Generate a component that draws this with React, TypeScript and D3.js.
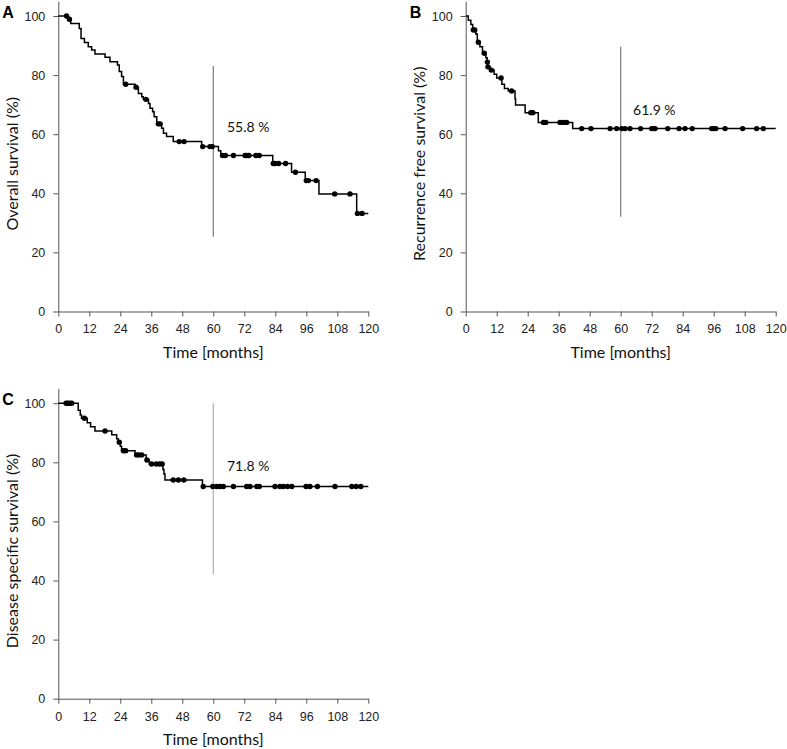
import React, { useEffect, useRef } from "react";
import * as d3 from "d3";

// ---- shared tick values / labels ----
const xTicks = [0, 12, 24, 36, 48, 60, 72, 84, 96, 108, 120];
const yTicks = [0, 20, 40, 60, 80, 100];
const panelLetters = ["A", "B", "C"];
const yTitles = ["Overall survival (%)", "Recurrence free survival (%)", "Disease specific survival (%)"];
const xTitle = "Time [months]";
const fiveYearLabels = ["55.8 %", "61.9 %", "71.8 %"];
const fiveYearMonth = 60;
const refLineLow = [25.3, 32.1, 42.0];
const refLineHigh = [83.1, 89.6, 100];
const labelMonth = [65.3, 64.8, 65.3];
const labelValue = [60.8, 66.5, 77.2];

// ---- A: overall survival ----
const osTimes = [3.9, 4.8, 8.1, 8.8, 10.1, 11.6, 12.9, 14.2, 18.1, 20.0, 22.9, 23.6, 24.5, 25.2, 29.7, 31.0, 32.3, 32.9, 34.9, 35.5, 36.5, 37.1, 38.1, 40.0, 40.7, 41.9, 44.5, 55.5, 62.0, 62.9, 83.0, 90.3, 95.6, 100.9, 115.5];
const osValues = [98.9, 97.5, 95.8, 92.4, 91.0, 89.6, 88.5, 87.1, 86.0, 84.5, 83.4, 81.2, 79.5, 76.9, 75.9, 73.8, 72.7, 71.8, 70.4, 68.8, 67.6, 65.9, 63.5, 62.0, 60.3, 59.2, 57.5, 55.8, 54.4, 52.8, 50.1, 47.1, 44.3, 39.8, 33.2];
const osCensor = [3.2, 4.3, 26.1, 30.1, 33.9, 38.7, 39.4, 46.8, 48.7, 55.9, 58.7, 59.6, 63.6, 64.7, 67.8, 72.3, 72.9, 73.8, 76.5, 77.8, 83.2, 83.9, 85.3, 88.0, 91.8, 96.0, 96.8, 99.8, 107.0, 112.9, 115.8, 117.6];

// ---- B: recurrence free survival ----
const rfsTimes = [1.0, 2.0, 2.7, 3.9, 4.5, 5.5, 6.5, 7.8, 8.3, 8.5, 9.4, 11.0, 12.0, 14.0, 15.0, 16.5, 19.1, 19.3, 23.0, 28.1, 41.4];
const rfsValues = [98.6, 97.1, 95.3, 93.9, 91.1, 89.6, 87.4, 85.9, 84.4, 82.8, 81.7, 80.3, 79.0, 76.9, 75.5, 74.6, 72.0, 69.9, 67.3, 64.0, 61.9];
const rfsCensor = [2.95, 3.5, 4.9, 7.2, 8.4, 8.6, 9.9, 13.7, 17.8, 25.2, 26.0, 30.1, 31.0, 36.5, 37.8, 39.1, 44.9, 48.5, 55.9, 58.4, 60.4, 61.7, 63.6, 67.7, 72.0, 72.7, 73.3, 78.2, 82.6, 84.9, 87.7, 95.2, 96.0, 96.8, 100.4, 107.2, 112.6, 115.2];

// ---- C: disease specific survival ----
const dssTimes = [7.7, 8.5, 9.0, 11.2, 12.5, 14.2, 20.7, 22.6, 23.2, 24.0, 24.5, 29.7, 34.0, 35.2, 40.5, 40.9, 41.3, 55.8];
const dssValues = [97.6, 96.0, 94.9, 93.4, 92.0, 90.6, 89.3, 88.0, 86.8, 85.4, 83.9, 82.5, 80.8, 79.4, 77.6, 76.0, 74.0, 71.8];
const dssCensor = [3.0, 3.7, 4.4, 5.2, 10.1, 18.1, 23.6, 25.2, 26.1, 30.3, 31.2, 32.3, 34.3, 36.1, 37.9, 39.2, 40.2, 44.5, 46.5, 48.6, 56.1, 59.8, 61.3, 62.6, 63.9, 67.8, 72.9, 74.2, 76.8, 77.8, 83.9, 85.8, 87.1, 88.7, 90.4, 95.9, 97.4, 100.3, 107.1, 113.6, 115.3, 117.1];

const seriesTimes = [osTimes, rfsTimes, dssTimes];
const seriesValues = [osValues, rfsValues, dssValues];
const seriesCensor = [osCensor, rfsCensor, dssCensor];

// layout (pixels)
const panelLeft = [58.3, 465.7, 58.3];
const panelBottom = [311.5, 311.5, 698.7];
const plotWidth = 310;
const pxPerUnit = 2.955;
const refLineColor = ["#7a7a7a", "#7a7a7a", "#b0b0b0"];

const tickFont = "'Liberation Sans', Arial, sans-serif";
const titleFont = "Lato, 'Noto Sans', sans-serif";

function levelAt(times: number[], values: number[], t: number) {
  let v = 100;
  for (let i = 0; i < times.length; i++) {
    if (times[i] <= t) v = values[i];
  }
  return v;
}

function Panel({ idx }: { idx: number }) {
  const ox = panelLeft[idx];
  const oy = panelBottom[idx];
  const x = d3.scaleLinear().domain([0, 120]).range([ox, ox + plotWidth]);
  const y = d3.scaleLinear().domain([0, 105]).range([oy, oy - 105 * pxPerUnit]);
  const xRef = useRef<SVGGElement>(null);
  const yRef = useRef<SVGGElement>(null);

  useEffect(() => {
    const ax = d3
      .axisBottom(x)
      .tickValues(xTicks)
      .tickSize(5)
      .tickSizeOuter(0)
      .tickPadding(8)
      .tickFormat(d3.format("d"));
    const gx = d3.select(xRef.current!).call(ax as any);
    gx.select(".domain").attr("stroke", "#555").attr("stroke-width", 1);
    gx.selectAll(".tick line").attr("stroke", "#555");
    gx.selectAll(".tick text")
      .attr("fill", "#222")
      .style("font-family", tickFont)
      .style("font-size", "12.5px");

    const ay = d3
      .axisLeft(y)
      .tickValues(yTicks)
      .tickSize(5)
      .tickSizeOuter(0)
      .tickPadding(8)
      .tickFormat(d3.format("d"));
    const gy = d3.select(yRef.current!).call(ay as any);
    gy.select(".domain").attr("stroke", "#555").attr("stroke-width", 1);
    gy.selectAll(".tick line").attr("stroke", "#555");
    gy.selectAll(".tick text")
      .attr("fill", "#222")
      .style("font-family", tickFont)
      .style("font-size", "12.5px");
  });

  const times = seriesTimes[idx];
  const values = seriesValues[idx];
  const pts: [number, number][] = [[0, 100]];
  times.forEach((t, i) => pts.push([t, values[i]]));
  pts.push([120, values[values.length - 1]]);
  const line = d3
    .line<[number, number]>()
    .x((d) => x(d[0]))
    .y((d) => y(d[1]))
    .curve(d3.curveStepAfter);

  const censor = seriesCensor[idx];
  const midY = (y(0) + y(100)) / 2;

  return (
    <g>
      <g ref={xRef} transform={`translate(0,${oy})`} />
      <g ref={yRef} transform={`translate(${ox},0)`} />
      <line
        x1={x(fiveYearMonth)}
        x2={x(fiveYearMonth)}
        y1={y(refLineLow[idx])}
        y2={y(refLineHigh[idx])}
        stroke={refLineColor[idx]}
        strokeWidth={1.2}
      />
      <path d={line(pts) || ""} fill="none" stroke="#000" strokeWidth={1.5} />
      {censor.map((t, i) => (
        <circle key={i} cx={x(t)} cy={y(levelAt(times, values, t))} r={2.7} fill="#000" />
      ))}
      <text
        x={x(labelMonth[idx])}
        y={y(labelValue[idx])}
        fontFamily={titleFont}
        fontSize={14}
        fill="#111"
      >
        {fiveYearLabels[idx]}
      </text>
      <text
        x={x(60)}
        y={oy + 46}
        textAnchor="middle"
        fontFamily={titleFont}
        fontSize={16}
        fill="#111"
      >
        {xTitle}
      </text>
      <text
        transform={`translate(${ox - 40.5},${midY}) rotate(-90)`}
        textAnchor="middle"
        fontFamily={titleFont}
        fontSize={16}
        fill="#111"
      >
        {yTitles[idx]}
      </text>
      <text
        x={ox - 56}
        y={y(100) + 2}
        fontFamily="'Liberation Sans', Arial, sans-serif"
        fontWeight="bold"
        fontSize={16}
        fill="#000"
      >
        {panelLetters[idx]}
      </text>
    </g>
  );
}

export default function App() {
  return (
    <svg
      width={787}
      height={749}
      style={{ position: "absolute", left: 0, top: 0, background: "#fff" }}
    >
      {[0, 1, 2].map((i) => (
        <Panel key={i} idx={i} />
      ))}
    </svg>
  );
}
